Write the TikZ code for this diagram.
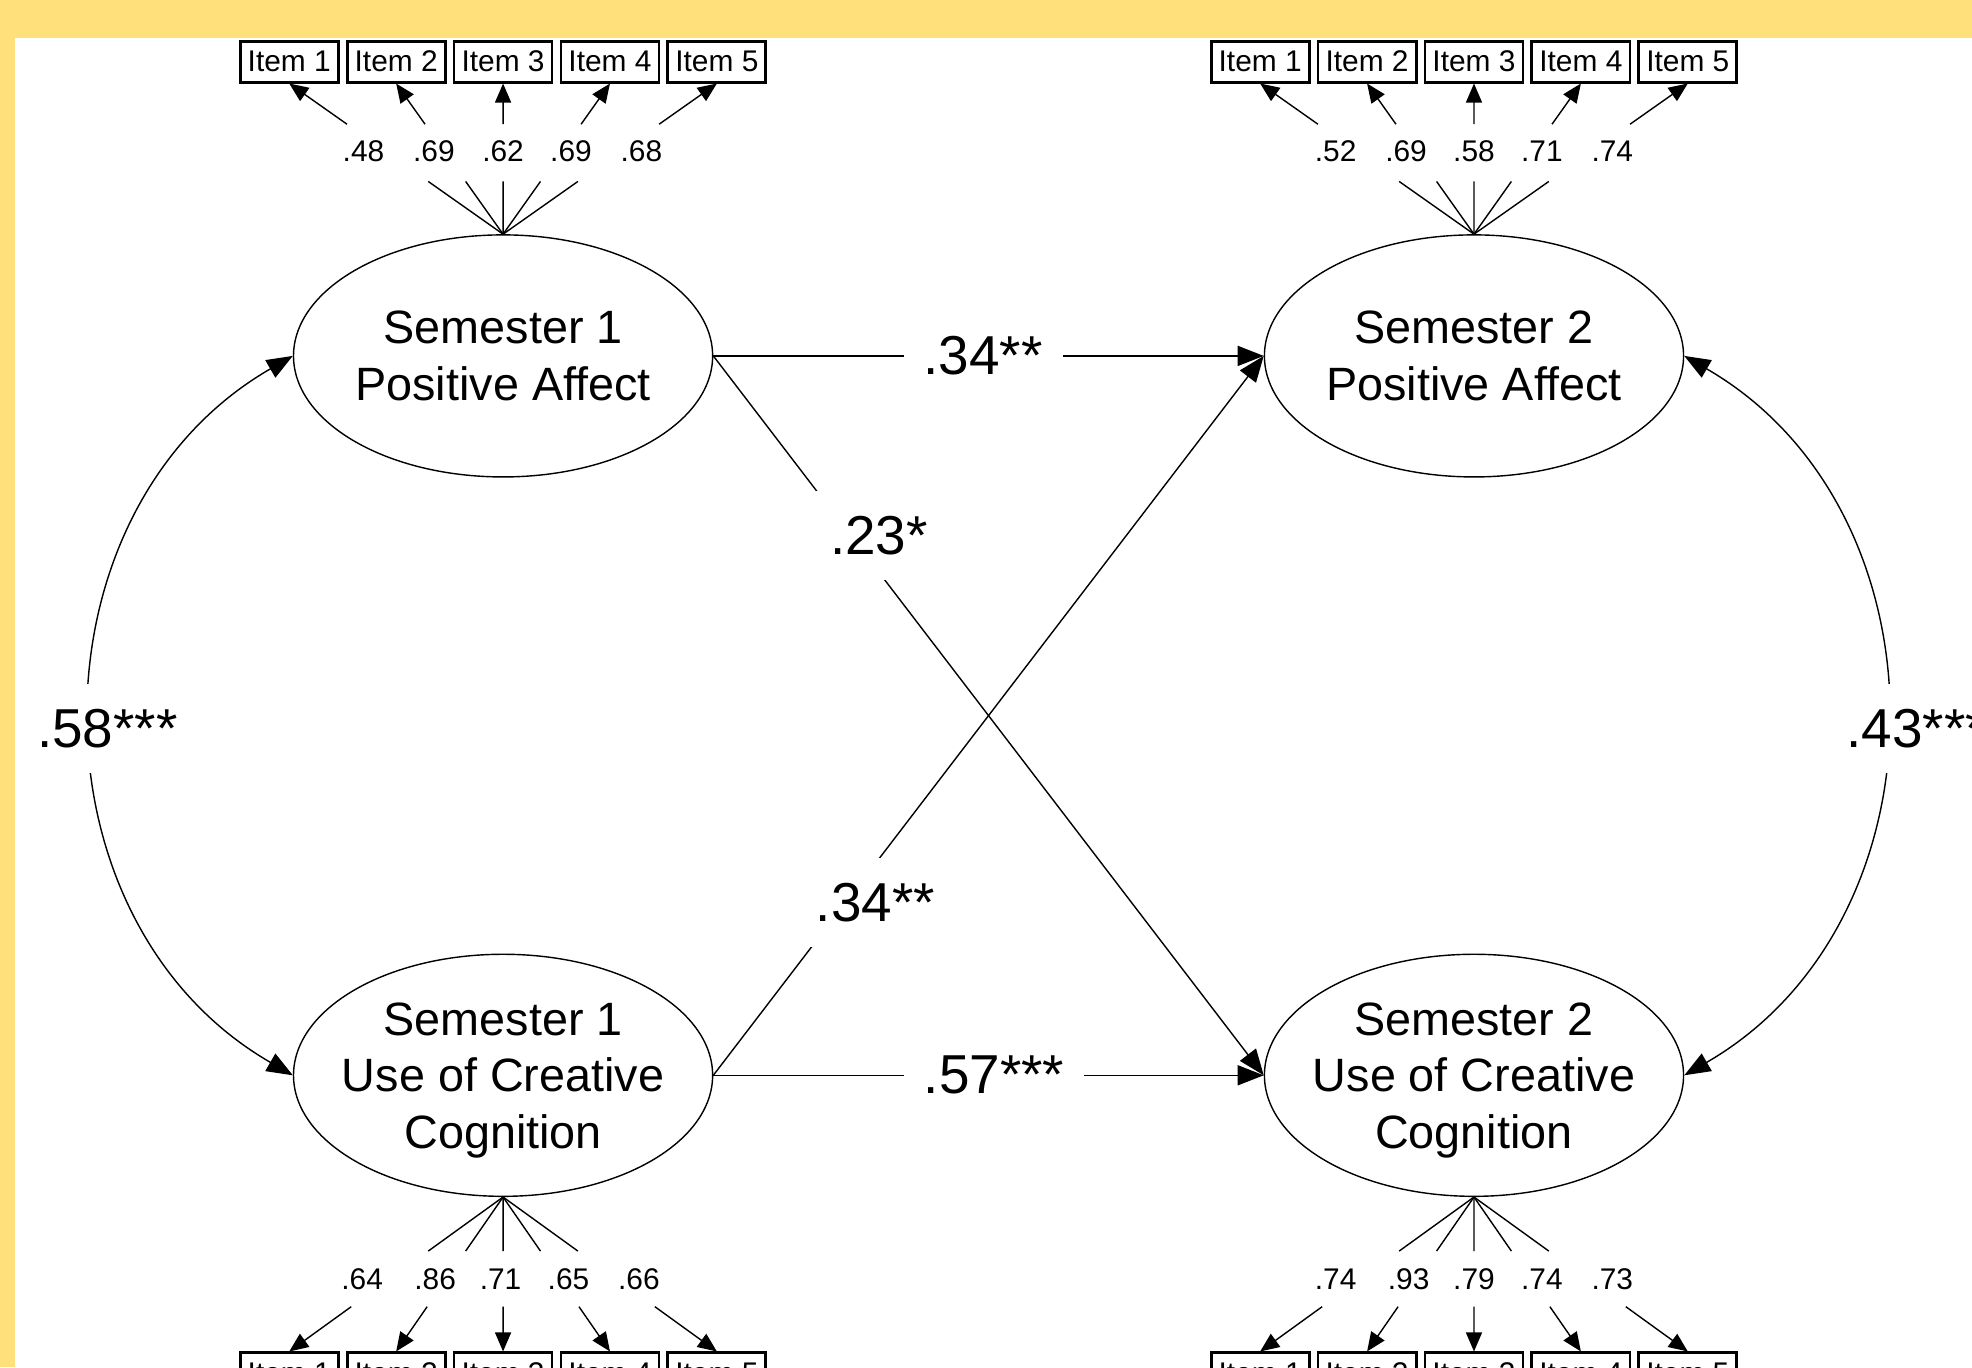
\documentclass[tikz,border=0pt]{standalone}
\usepackage{fontspec}
\setmainfont{Liberation Sans}
\usepackage{xcolor}
\usetikzlibrary{arrows.meta,positioning,shapes.geometric,calc}
\definecolor{amosyellow}{RGB}{255,224,122}

\begin{document}
\begin{tikzpicture}[x=0.012577cm,y=-0.012577cm,line width=0.4pt,
  >={Triangle[length=0.19cm,width=0.16cm]},
  latent/.style={ellipse,draw,minimum width=4.19cm,minimum height=2.42cm,inner sep=-0.3cm,align=center,text depth=0pt,font=\fontsize{13.3}{16.1}\selectfont},
  item/.style={rectangle,draw,line width=0.8pt,minimum width=0.98cm,minimum height=0.41cm,inner sep=0pt,font=\fontsize{8.5}{10}\selectfont},
  load/.style={inner sep=0pt,font=\fontsize{8.5}{10}\selectfont},
  coef/.style={fill=white,inner xsep=0.2cm,inner ysep=0.25cm,font=\fontsize{15.6}{18}\selectfont},
  corr/.style={coef,inner xsep=0.1cm,yshift=-0.13cm},
  effect/.style={-{Triangle[length=0.26cm,width=0.2cm]}},
  covar/.style={{Triangle[length=0.26cm,width=0.2cm]}-{Triangle[length=0.26cm,width=0.2cm]}}]
\useasboundingbox (0,0) rectangle (1568,1087);
\fill[amosyellow] (0,0) rectangle (1568,1087);
\fill[white] (12,30) rectangle (1568,1087);

% latent variables
\node[latent] (pa1) at (400,283) {Semester 1\\Positive Affect};
\node[latent] (pa2) at (1172,283) {Semester 2\\Positive Affect};
\node[latent] (cc1) at (400,855) {Semester 1\\Use of Creative\\Cognition};
\node[latent] (cc2) at (1172,855) {Semester 2\\Use of Creative\\Cognition};

% semester 1 positive affect items
\node[item] (pa1a) at (230,49) {Item 1};
\node[item] (pa1b) at (315,49) {Item 2};
\node[item] (pa1c) at (400,49) {Item 3};
\node[item] (pa1d) at (485,49) {Item 4};
\node[item] (pa1e) at (570,49) {Item 5};
\draw[->] (pa1.north) -- ($(pa1.north)!.35!(pa1a.south)$) ($(pa1.north)!.73!(pa1a.south)$) -- (pa1a.south) node[load] at (289,120) {.48};
\draw[->] (pa1.north) -- ($(pa1.north)!.35!(pa1b.south)$) ($(pa1.north)!.73!(pa1b.south)$) -- (pa1b.south) node[load] at (345,120) {.69};
\draw[->] (pa1.north) -- ($(pa1.north)!.35!(pa1c.south)$) ($(pa1.north)!.73!(pa1c.south)$) -- (pa1c.south) node[load] at (400,120) {.62};
\draw[->] (pa1.north) -- ($(pa1.north)!.35!(pa1d.south)$) ($(pa1.north)!.73!(pa1d.south)$) -- (pa1d.south) node[load] at (454,120) {.69};
\draw[->] (pa1.north) -- ($(pa1.north)!.35!(pa1e.south)$) ($(pa1.north)!.73!(pa1e.south)$) -- (pa1e.south) node[load] at (510,120) {.68};

% semester 2 positive affect items
\node[item] (pa2a) at (1002,49) {Item 1};
\node[item] (pa2b) at (1087,49) {Item 2};
\node[item] (pa2c) at (1172,49) {Item 3};
\node[item] (pa2d) at (1257,49) {Item 4};
\node[item] (pa2e) at (1342,49) {Item 5};
\draw[->] (pa2.north) -- ($(pa2.north)!.35!(pa2a.south)$) ($(pa2.north)!.73!(pa2a.south)$) -- (pa2a.south) node[load] at (1062,120) {.52};
\draw[->] (pa2.north) -- ($(pa2.north)!.35!(pa2b.south)$) ($(pa2.north)!.73!(pa2b.south)$) -- (pa2b.south) node[load] at (1118,120) {.69};
\draw[->] (pa2.north) -- ($(pa2.north)!.35!(pa2c.south)$) ($(pa2.north)!.73!(pa2c.south)$) -- (pa2c.south) node[load] at (1172,120) {.58};
\draw[->] (pa2.north) -- ($(pa2.north)!.35!(pa2d.south)$) ($(pa2.north)!.73!(pa2d.south)$) -- (pa2d.south) node[load] at (1226,120) {.71};
\draw[->] (pa2.north) -- ($(pa2.north)!.35!(pa2e.south)$) ($(pa2.north)!.73!(pa2e.south)$) -- (pa2e.south) node[load] at (1282,120) {.74};

% semester 1 creative cognition items
\node[item] (cc1a) at (230,1092) {Item 1};
\node[item] (cc1b) at (315,1092) {Item 2};
\node[item] (cc1c) at (400,1092) {Item 3};
\node[item] (cc1d) at (485,1092) {Item 4};
\node[item] (cc1e) at (570,1092) {Item 5};
\draw[->] (cc1.south) -- ($(cc1.south)!.35!(cc1a.north)$) ($(cc1.south)!.71!(cc1a.north)$) -- (cc1a.north) node[load] at (288,1017) {.64};
\draw[->] (cc1.south) -- ($(cc1.south)!.35!(cc1b.north)$) ($(cc1.south)!.71!(cc1b.north)$) -- (cc1b.north) node[load] at (346,1017) {.86};
\draw[->] (cc1.south) -- ($(cc1.south)!.35!(cc1c.north)$) ($(cc1.south)!.71!(cc1c.north)$) -- (cc1c.north) node[load] at (398,1017) {.71};
\draw[->] (cc1.south) -- ($(cc1.south)!.35!(cc1d.north)$) ($(cc1.south)!.71!(cc1d.north)$) -- (cc1d.north) node[load] at (452,1017) {.65};
\draw[->] (cc1.south) -- ($(cc1.south)!.35!(cc1e.north)$) ($(cc1.south)!.71!(cc1e.north)$) -- (cc1e.north) node[load] at (508,1017) {.66};

% semester 2 creative cognition items
\node[item] (cc2a) at (1002,1092) {Item 1};
\node[item] (cc2b) at (1087,1092) {Item 2};
\node[item] (cc2c) at (1172,1092) {Item 3};
\node[item] (cc2d) at (1257,1092) {Item 4};
\node[item] (cc2e) at (1342,1092) {Item 5};
\draw[->] (cc2.south) -- ($(cc2.south)!.35!(cc2a.north)$) ($(cc2.south)!.71!(cc2a.north)$) -- (cc2a.north) node[load] at (1062,1017) {.74};
\draw[->] (cc2.south) -- ($(cc2.south)!.35!(cc2b.north)$) ($(cc2.south)!.71!(cc2b.north)$) -- (cc2b.north) node[load] at (1120,1017) {.93};
\draw[->] (cc2.south) -- ($(cc2.south)!.35!(cc2c.north)$) ($(cc2.south)!.71!(cc2c.north)$) -- (cc2c.north) node[load] at (1172,1017) {.79};
\draw[->] (cc2.south) -- ($(cc2.south)!.35!(cc2d.north)$) ($(cc2.south)!.71!(cc2d.north)$) -- (cc2d.north) node[load] at (1226,1017) {.74};
\draw[->] (cc2.south) -- ($(cc2.south)!.35!(cc2e.north)$) ($(cc2.south)!.71!(cc2e.north)$) -- (cc2e.north) node[load] at (1282,1017) {.73};

% paths between semesters
\draw[effect] (pa1.east) to node[coef,pos=.49]{.34**} (pa2.west);
\draw[effect] (pa1.east) to node[coef,pos=.25,xshift=0.28cm]{.23*} (cc2.west);
\draw[effect] (cc1.east) to node[coef,pos=.24,xshift=0.3cm]{.34**} (pa2.west);
\draw[effect] (cc1.east) to node[coef,pos=.51]{.57***} (cc2.west);
\draw[covar] (pa1.west) to[out=210,in=150,looseness=1.1] node[corr,xshift=0.15cm]{.58***} (cc1.west);
\draw[covar] (pa2.east) to[out=-30,in=30,looseness=1.1] node[corr,xshift=0.32cm]{.43***} (cc2.east);
\end{tikzpicture}
\end{document}
